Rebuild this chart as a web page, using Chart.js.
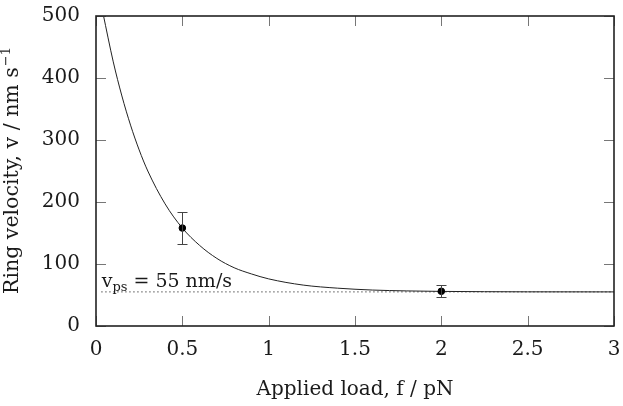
<!DOCTYPE html>
<html>
<head>
<meta charset="utf-8">
<script src="https://cdn.jsdelivr.net/npm/chart.js@4/dist/chart.umd.min.js"></script>
<style>
html,body{margin:0;padding:0;background:#fff;}
#wrap{width:623px;height:406px;position:relative;}
</style>
</head>
<body>
<div id="wrap"><canvas id="c" width="623" height="406"></canvas></div>
<script>
// Measured data points (load f / pN, velocity v / nm s^-1, error bar half-height)
const pointF = [0.5, 2.0];
const pointV = [158, 56];
const pointErr = [26, 10];

// Fitted curve
const curveF = [0.04, 0.1, 0.15, 0.2, 0.25, 0.3, 0.4, 0.5, 0.6, 0.7, 0.8, 0.9, 1.0, 1.2, 1.4, 1.6, 1.8, 2.0, 2.5, 3.0];
const curveV = [505, 426, 371, 324, 284, 250, 197, 158, 130, 109, 94, 84, 76, 66, 61, 58, 56.6, 55.8, 55.1, 55];

// Plateau line v_ps = 55 nm/s
const plateauF = [0.03, 3.0];
const plateauV = [55, 55];
const plateauLabel = ['v', 'ps', ' = 55 nm/s'];

// Axis ticks
const xTicks = [0, 0.5, 1, 1.5, 2, 2.5, 3];
const yTicks = [0, 100, 200, 300, 400, 500];
const xTitle = 'Applied load, f / pN';
const yTitleParts = ['Ring velocity, v / nm s', '\u22121'];

const FONT = 'DejaVu Serif';
const TXT = '#1a1a1a';

const toXY = (xs, ys) => xs.map((x, i) => ({x: x, y: ys[i]}));

const framePlugin = {
  id: 'frame',
  afterDatasetsDraw(chart) {
    const {ctx, chartArea: a, scales: {x, y}} = chart;
    ctx.save();
    // inward ticks on all four sides
    ctx.strokeStyle = '#777';
    ctx.lineWidth = 1;
    const L = 10;
    ctx.beginPath();
    xTicks.forEach(v => {
      const px = Math.round(x.getPixelForValue(v)) + 0.5;
      ctx.moveTo(px, a.bottom); ctx.lineTo(px, a.bottom - L);
      ctx.moveTo(px, a.top); ctx.lineTo(px, a.top + L);
    });
    yTicks.forEach(v => {
      const py = Math.round(y.getPixelForValue(v)) + 0.5;
      ctx.moveTo(a.left, py); ctx.lineTo(a.left + L, py);
      ctx.moveTo(a.right, py); ctx.lineTo(a.right - L, py);
    });
    ctx.stroke();
    // error bars
    ctx.strokeStyle = '#444';
    ctx.lineWidth = 1;
    pointF.forEach((f, i) => {
      const px = Math.round(x.getPixelForValue(f)) + 0.5;
      const yT = Math.round(y.getPixelForValue(pointV[i] + pointErr[i])) + 0.5;
      const yB = Math.round(y.getPixelForValue(pointV[i] - pointErr[i])) + 0.5;
      ctx.beginPath();
      ctx.moveTo(px, yT); ctx.lineTo(px, yB);
      ctx.moveTo(px - 5, yT); ctx.lineTo(px + 5, yT);
      ctx.moveTo(px - 5, yB); ctx.lineTo(px + 5, yB);
      ctx.stroke();
    });
    // frame
    ctx.strokeStyle = '#222';
    ctx.lineWidth = 1.6;
    ctx.strokeRect(a.left, a.top, a.right - a.left, a.bottom - a.top);
    // plateau label
    ctx.fillStyle = TXT;
    ctx.textBaseline = 'alphabetic';
    ctx.textAlign = 'left';
    let tx = x.getPixelForValue(plateauF[0]) + 0.5;
    const ty = y.getPixelForValue(plateauV[0]) - 5;
    ctx.font = '19px "' + FONT + '"';
    ctx.fillText(plateauLabel[0], tx, ty);
    tx += ctx.measureText(plateauLabel[0]).width;
    ctx.font = '13px "' + FONT + '"';
    ctx.fillText(plateauLabel[1], tx, ty + 4);
    tx += ctx.measureText(plateauLabel[1]).width;
    ctx.font = '19px "' + FONT + '"';
    ctx.fillText(plateauLabel[2], tx, ty);
    // y axis title (rotated, with superscript)
    ctx.font = '20.5px "' + FONT + '"';
    const w1 = ctx.measureText(yTitleParts[0]).width;
    ctx.font = '13px "' + FONT + '"';
    const w2 = ctx.measureText(yTitleParts[1]).width;
    const total = w1 + w2;
    const cy = (a.top + a.bottom) / 2;
    ctx.translate(18, cy + total / 2);
    ctx.rotate(-Math.PI / 2);
    ctx.font = '20.5px "' + FONT + '"';
    ctx.fillText(yTitleParts[0], 0, 0);
    ctx.font = '13px "' + FONT + '"';
    ctx.fillText(yTitleParts[1], w1 + 1, -8);
    ctx.restore();
  }
};

new Chart(document.getElementById('c'), {
  type: 'scatter',
  data: {
    datasets: [
      {
        type: 'line',
        data: toXY(plateauF, plateauV),
        borderColor: '#555',
        borderWidth: 1,
        borderDash: [1.5, 2.5],
        pointRadius: 0,
        fill: false,
        order: 3
      },
      {
        type: 'line',
        data: toXY(curveF, curveV),
        borderColor: '#222',
        borderWidth: 1,
        pointRadius: 0,
        cubicInterpolationMode: 'monotone',
        fill: false,
        order: 2
      },
      {
        type: 'scatter',
        data: toXY(pointF, pointV),
        backgroundColor: '#000',
        borderColor: '#000',
        pointRadius: 3.3,
        order: 1
      }
    ]
  },
  options: {
    responsive: false,
    animation: false,
    devicePixelRatio: 1,
    layout: {padding: {left: 0, right: 9, top: 16, bottom: 0}},
    plugins: {legend: {display: false}, tooltip: {enabled: false}},
    scales: {
      x: {
        type: 'linear', min: 0, max: 3,
        afterBuildTicks: s => { s.ticks = xTicks.map(v => ({value: v})); },
        afterFit: s => { s.height = 80; s.paddingLeft = 0; s.paddingRight = 0; },
        grid: {display: false, drawTicks: false},
        border: {display: false},
        ticks: {
          padding: 12, color: TXT,
          font: {family: FONT, size: 20},
          callback: v => String(v),
          maxRotation: 0, autoSkip: false
        },
        title: {display: true, text: xTitle, color: TXT, font: {family: FONT, size: 20}, padding: {top: 0, bottom: 4}}
      },
      y: {
        type: 'linear', min: 0, max: 500,
        afterBuildTicks: s => { s.ticks = yTicks.map(v => ({value: v})); },
        afterFit: s => { s.width = 96; s.paddingTop = 0; s.paddingBottom = 0; },
        grid: {display: false, drawTicks: false},
        border: {display: false},
        ticks: {
          padding: 16, color: TXT,
          font: {family: FONT, size: 20},
          callback: v => String(v)
        },
        title: {display: false}
      }
    }
  },
  plugins: [framePlugin]
});
</script>
</body>
</html>
